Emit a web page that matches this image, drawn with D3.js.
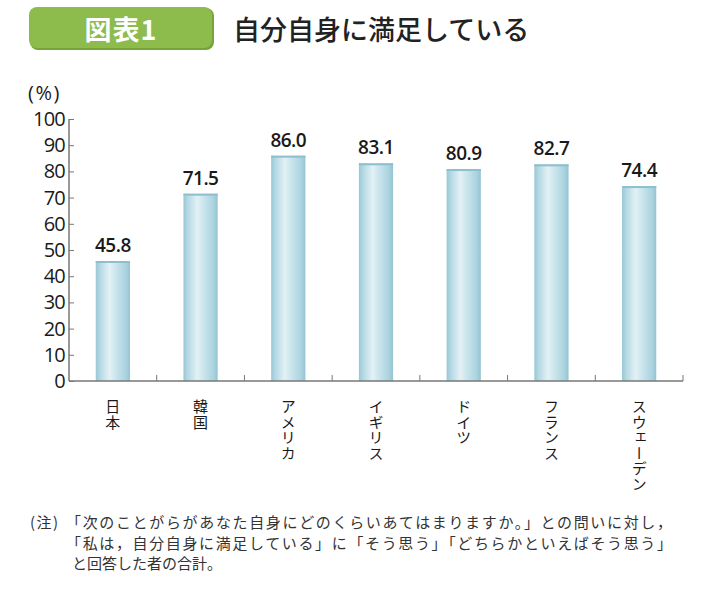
<!DOCTYPE html>
<html><head><meta charset="utf-8">
<script src="https://cdn.jsdelivr.net/npm/d3@7/dist/d3.min.js"></script>
<style>
html,body{margin:0;padding:0;background:#fff;}
svg{display:block;}
</style></head>
<body>
<svg id="chart" width="710" height="598"></svg>
<script>
const categories = ["日本","韓国","アメリカ","イギリス","ドイツ","フランス","スウェーデン"];
const values = [45.8, 71.5, 86.0, 83.1, 80.9, 82.7, 74.4];
const yTicks = [0,10,20,30,40,50,60,70,80,90,100];
const badgeText = "図表1";
const titleText = "自分自身に満足している";
const unitText = "(%)";
const noteLabel = "(注)";
const noteLines = [
  "「次のことがらがあなた自身にどのくらいあてはまりますか。」との問いに対し，",
  "「私は，自分自身に満足している」に「そう思う」「どちらかといえばそう思う」",
  "と回答した者の合計。"
];

const svg = d3.select("#chart");
const jp = "'Noto Sans CJK JP','Noto Sans',sans-serif";
const num = "'Open Sans','Noto Sans',sans-serif";

const defs = svg.append("defs");
const g1 = defs.append("linearGradient").attr("id","barGrad").attr("x1","0").attr("x2","1").attr("y1","0").attr("y2","0");
[[0,"#98c7d5"],[0.12,"#b3d8e3"],[0.4,"#e3f1f5"],[0.6,"#c9e4ec"],[0.88,"#aad3df"],[1,"#93c3d2"]]
  .forEach(([o,c])=>g1.append("stop").attr("offset",o).attr("stop-color",c));

// Badge
svg.append("rect").attr("x",30).attr("y",8).attr("width",184).attr("height",42).attr("rx",8)
  .attr("fill","#76a438");
svg.append("rect").attr("x",29).attr("y",7).attr("width",183).attr("height",41).attr("rx",8)
  .attr("fill","#8dbb4c");
svg.append("text").attr("x",121).attr("y",40).attr("text-anchor","middle")
  .attr("font-family",jp).attr("font-weight",700).attr("font-size",27).attr("fill","#fff")
  .attr("letter-spacing",1).text(badgeText);
svg.append("text").attr("x",233).attr("y",40)
  .attr("font-family",jp).attr("font-weight",500).attr("font-size",27).attr("fill","#222")
  .text(titleText);

const x0 = 69, x1 = 683, yTop = 119, yBot = 381;
const x = d3.scaleBand().domain(categories).range([x0,x1]).paddingInner(0.61).paddingOuter(0.305);
const y = d3.scaleLinear().domain([0,100]).range([yBot,yTop]);

// bars
const bars = svg.append("g");
bars.selectAll("rect.bar").data(values).join("rect").attr("class","bar")
  .attr("x",(d,i)=>x(categories[i])).attr("width",x.bandwidth())
  .attr("y",d=>y(d)).attr("height",d=>y(0)-y(d)).attr("fill","url(#barGrad)");
bars.selectAll("rect.top").data(values).join("rect").attr("class","top")
  .attr("x",(d,i)=>x(categories[i])).attr("width",x.bandwidth())
  .attr("y",d=>y(d)).attr("height",2).attr("fill","#8dbfcf");

// value labels
svg.append("g").selectAll("text").data(values).join("text")
  .attr("x",(d,i)=>x(categories[i])+x.bandwidth()/2).attr("y",d=>y(d)-9)
  .attr("text-anchor","middle").attr("font-family",num).attr("font-weight",600)
  .attr("font-size",19).attr("fill","#1a1a1a").attr("letter-spacing",-0.5)
  .text(d=>d.toFixed(1));

// y axis
const yAxis = d3.axisRight(y).tickValues(yTicks).tickSize(5).tickFormat("");
const ya = svg.append("g").attr("transform",`translate(${x0},0)`).call(yAxis);
ya.select(".domain").remove();
ya.selectAll("line").attr("stroke","#777");
svg.append("line").attr("x1",x0).attr("x2",x0).attr("y1",yTop).attr("y2",yBot)
  .attr("stroke","#777").attr("stroke-width",1.5);
svg.append("g").selectAll("text").data(yTicks).join("text")
  .attr("x",x0-4).attr("y",d=>y(d)+7).attr("text-anchor","end")
  .attr("font-family",num).attr("font-size",20).attr("fill","#1a1a1a").attr("letter-spacing",-0.8)
  .text(d=>d);
svg.append("text").attr("x",28).attr("y",100).attr("font-family",num).attr("font-size",20)
  .attr("fill","#1a1a1a").attr("letter-spacing",1.5).text(unitText);

// x axis
svg.append("line").attr("x1",x0).attr("x2",x1).attr("y1",yBot).attr("y2",yBot)
  .attr("stroke","#777").attr("stroke-width",1.5);
const bounds = categories.map((c,i)=>x0 + (i+1)*(x1-x0)/categories.length);
svg.append("g").selectAll("line").data(bounds).join("line")
  .attr("x1",d=>d).attr("x2",d=>d).attr("y1",yBot).attr("y2",yBot-6)
  .attr("stroke","#777").attr("stroke-width",1);

// category labels (vertical)
svg.append("g").selectAll("text").data(categories).join("text")
  .attr("x",d=>x(d)+x.bandwidth()/2).attr("y",399)
  .attr("font-family",jp).attr("font-size",15).attr("fill","#1a1a1a")
  .attr("letter-spacing",0.5)
  .style("writing-mode","vertical-rl").style("text-orientation","upright")
  .text(d=>d);

// note
svg.append("text").attr("x",30).attr("y",528)
  .attr("font-family",jp).attr("font-size",15).attr("fill","#333")
  .attr("letter-spacing",1.5).text(noteLabel);
svg.append("g").selectAll("text").data(noteLines).join("text")
  .attr("x",(d,i)=>i<2?66:72).attr("y",(d,i)=>528+i*20.5)
  .attr("font-family",jp).attr("font-size",15).attr("fill","#333")
  .attr("textLength",(d,i)=>i<2?606:null)
  .text(d=>d);
</script>
</body></html>
